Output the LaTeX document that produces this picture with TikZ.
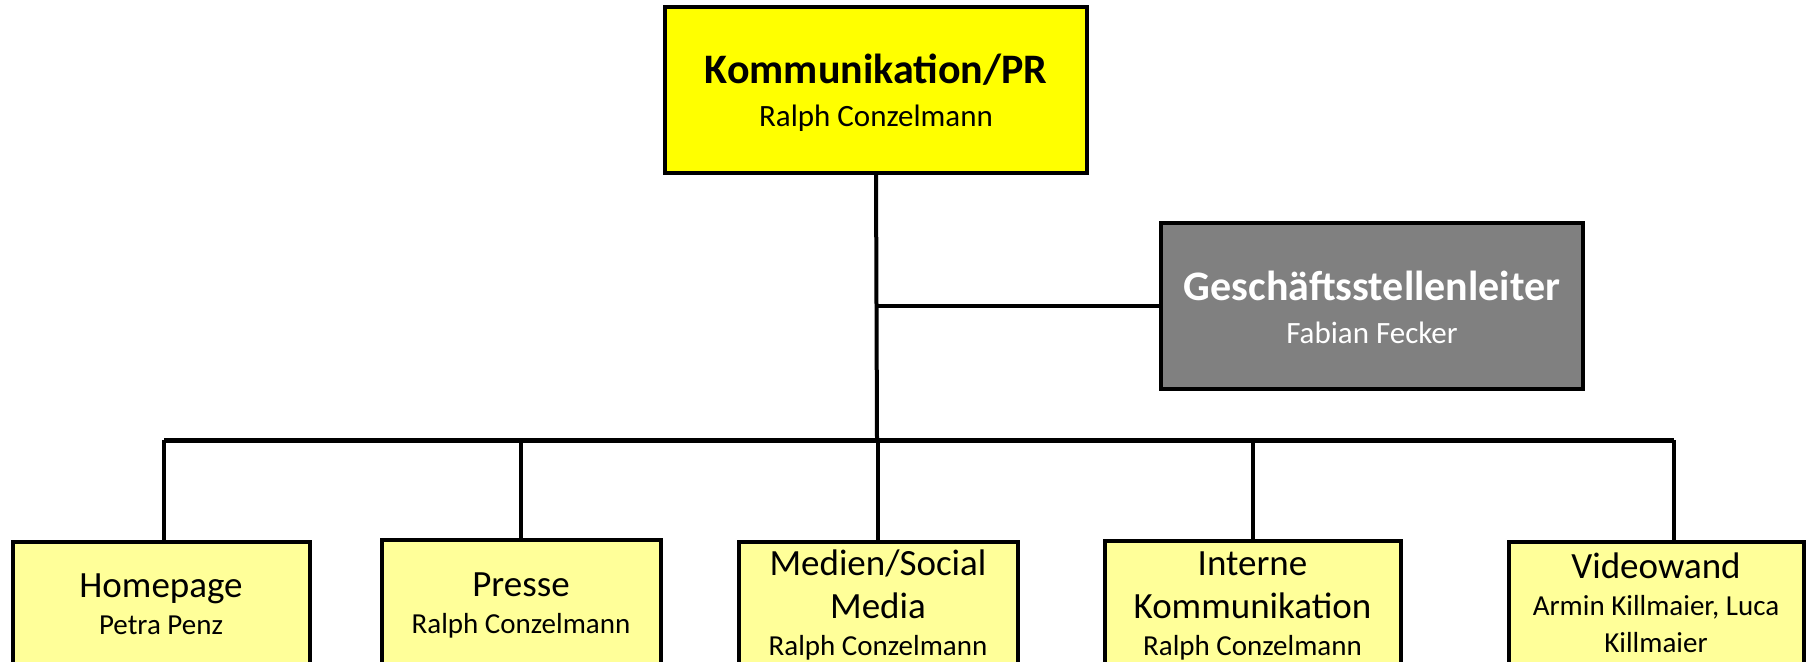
\documentclass[tikz,border=0pt]{standalone}
\usepackage{fontspec}
\setmainfont{Carlito}
\usepackage{tikz}
\definecolor{headyellow}{HTML}{FFFF00}
\definecolor{leadgray}{HTML}{808080}
\definecolor{unityellow}{HTML}{FFFF99}
\newcommand{\headfont}{\fontsize{21}{21.5}\selectfont\bfseries}
\newcommand{\headname}{\fontsize{15.5}{21.5}\selectfont}
\newcommand{\unitfont}{\fontsize{18.5}{21.5}\selectfont}
\newcommand{\unitname}{\fontsize{14.5}{18.5}\selectfont}
\newcommand{\upstrut}[1]{\rule{0pt}{#1}}
\newcommand{\downstrut}{\rule[-4pt]{0pt}{4pt}}

\begin{document}
\begin{tikzpicture}[x=0.5pt, y=-0.5pt,
	box/.style={draw=black, line width=2pt, align=center, inner sep=0pt, font=\headname, minimum width=211pt, minimum height=83pt},
	unit/.style={draw=black, line width=2pt, align=center, inner sep=0pt, font=\unitname, fill=unityellow},
	link/.style={line width=2pt}]
	\clip (0,0) rectangle (1808,661);
	\node[box, fill=headyellow] (pr) at (876,89.5) {\headfont\upstrut{19.5pt}Kommunikation/PR\\\headname Ralph Conzelmann\downstrut};
	\node[box, fill=leadgray, text=white] (gl) at (1372,306) {\headfont\upstrut{19.5pt}Geschäftsstellenleiter\\\headname Fabian Fecker\downstrut};
	\node[unit, minimum width=148.5pt, minimum height=61.5pt] (hp) at (161,603.5) {\unitfont\upstrut{16pt}Homepage\\\unitname Petra Penz\downstrut};
	\node[unit, minimum width=139.5pt, minimum height=62.5pt] (pe) at (521,602.5) {\unitfont\upstrut{16pt}Presse\\\unitname Ralph Conzelmann\downstrut};
	\node[unit, minimum width=139.5pt, minimum height=61pt] (sm) at (878,603) {\unitfont\upstrut{16pt}Medien/Social\\[3pt]\unitfont Media\\\unitname Ralph Conzelmann\downstrut};
	\node[unit, minimum width=148pt, minimum height=62pt] (ik) at (1252.5,603) {\unitfont\upstrut{16pt}Interne\\[3pt]\unitfont Kommunikation\\\unitname Ralph Conzelmann\downstrut};
	\node[unit, minimum width=147.5pt, minimum height=61pt] (vw) at (1656,603) {\unitfont\upstrut{16pt}Videowand\\\unitname Armin Killmaier, Luca\\\unitname Killmaier\downstrut};
	% trunk and bus
	\coordinate (bus) at (877,440);
	\coordinate (busl) at (164,440);
	\coordinate (busr) at (1674,440);
	\draw[link] (pr.south) -- (bus);
	\draw[link] (pr.south |- gl.west) -- (gl.west);
	\draw[link, line width=2.5pt] (busl) -- (busr);
	\draw[link] (busl) -- (hp.north -| busl);
	\draw[link] (pe.north) -- (pe.north |- bus);
	\draw[link] (sm.north) -- (sm.north |- bus);
	\draw[link] (ik.north) -- (ik.north |- bus);
	\draw[link] (busr) -- (vw.north -| busr);
\end{tikzpicture}
\end{document}
